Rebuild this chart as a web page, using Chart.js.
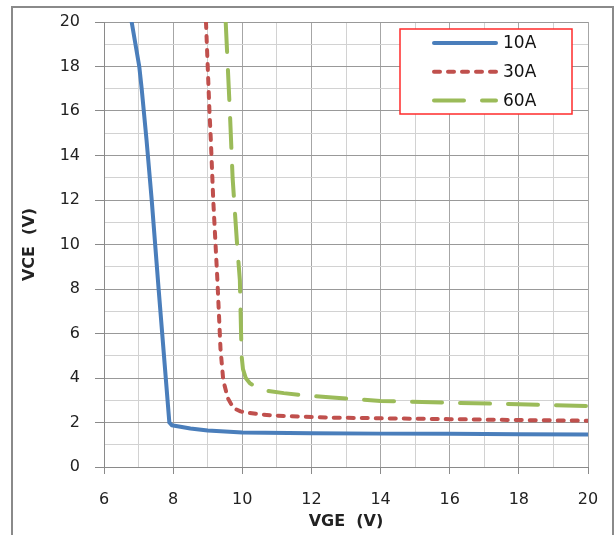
<!DOCTYPE html>
<html>
<head>
<meta charset="utf-8">
<script src="https://cdn.jsdelivr.net/npm/chart.js@4.4.0/dist/chart.umd.min.js"></script>
<style>
html, body { margin: 0; padding: 0; background: #fff; }
#wrap { width: 616px; height: 535px; }
</style>
</head>
<body>
<div id="wrap"><canvas id="vceChart" width="616" height="535"></canvas></div>
<script>
// series (VGE on x, VCE on y)
const vge10 = [6.8, 7.02, 7.09, 7.23, 7.38, 7.58, 7.89, 7.96, 8.5, 9, 10, 12, 14, 16, 18, 20];
const vce10 = [20, 18, 17, 14.7, 12, 8, 2.0, 1.88, 1.73, 1.64, 1.55, 1.52, 1.5, 1.49, 1.47, 1.46];

const vge30 = [8.95, 9.0, 9.05, 9.09, 9.16, 9.28, 9.37, 9.45, 9.58, 9.74, 9.95, 10.13, 10.6, 11.2, 12.6, 14, 16, 18, 20];
const vce30 = [20, 18, 16, 14.7, 12, 8.4, 5.3, 3.9, 3.1, 2.65, 2.5, 2.44, 2.35, 2.29, 2.22, 2.19, 2.15, 2.11, 2.08];

const vge60 = [9.52, 9.58, 9.64, 9.72, 9.85, 9.93, 9.98, 10.02, 10.1, 10.22, 10.45, 10.7, 11.2, 11.7, 12.6, 14, 16, 18, 20];
const vce60 = [20, 18, 16, 13, 10, 8.4, 5.0, 4.4, 4.0, 3.76, 3.55, 3.43, 3.32, 3.23, 3.12, 2.97, 2.89, 2.82, 2.74];

const seriesLabels = ["10A", "30A", "60A"];

const xMin = 6, xMax = 20;
const yMin = 0, yMax = 20;

function pairs(xs, ys) {
    return xs.map((x, i) => ({ x: x, y: ys[i] }));
}

const FONT = "'DejaVu Sans', Verdana, sans-serif";
const isMajor = ctx => ctx.tick && Math.round(ctx.tick.value) % 2 === 0;

// grey frame round the whole picture
const frame = {
    id: "frame",
    beforeDraw(chart) {
        const ctx = chart.ctx;
        ctx.save();
        ctx.fillStyle = "#fff";
        ctx.fillRect(0, 0, chart.width, chart.height);
        ctx.strokeStyle = "#8a8a8a";
        ctx.lineWidth = 2;
        ctx.beginPath();
        ctx.moveTo(12, chart.height + 2);
        ctx.lineTo(12, 7);
        ctx.lineTo(613, 7);
        ctx.lineTo(613, chart.height + 2);
        ctx.stroke();
        ctx.restore();
    }
};

// legend in a red box inside the plot, top right
const boxLegend = {
    id: "boxLegend",
    afterDatasetsDraw(chart) {
        const ctx = chart.ctx;
        const area = chart.chartArea;
        const w = 172, h = 85;
        const left = area.right - 16 - w;
        const top = area.top + 7;
        ctx.save();
        ctx.fillStyle = "#fff";
        ctx.fillRect(left, top, w, h);
        ctx.strokeStyle = "#ff2b2b";
        ctx.lineWidth = 1.5;
        ctx.strokeRect(left, top, w, h);
        ctx.font = "17px " + FONT;
        ctx.textBaseline = "middle";
        chart.data.datasets.forEach((ds, i) => {
            const y = top + 14 + i * 28.7;
            ctx.strokeStyle = ds.borderColor;
            ctx.lineWidth = ds.borderWidth;
            ctx.lineCap = ds.borderCapStyle || "butt";
            ctx.setLineDash(ds.borderDash || []);
            ctx.beginPath();
            ctx.moveTo(left + 34, y);
            ctx.lineTo(left + 96, y);
            ctx.stroke();
            ctx.setLineDash([]);
            ctx.fillStyle = "#111";
            ctx.fillText(ds.label, left + 103, y + 1);
        });
        ctx.restore();
    }
};

new Chart(document.getElementById("vceChart"), {
    type: "scatter",
    data: {
        datasets: [{
            label: seriesLabels[0],
            data: pairs(vge10, vce10),
            showLine: true,
            borderColor: "#4a7ebb",
            borderWidth: 4,
            borderCapStyle: "round",
            borderJoinStyle: "round",
            pointRadius: 0,
            tension: 0
        }, {
            label: seriesLabels[1],
            data: pairs(vge30, vce30),
            showLine: true,
            borderColor: "#c0504d",
            borderWidth: 4,
            borderDash: [6, 8],
            borderCapStyle: "round",
            borderJoinStyle: "round",
            pointRadius: 0,
            tension: 0
        }, {
            label: seriesLabels[2],
            data: pairs(vge60, vce60),
            showLine: true,
            borderColor: "#9bbb59",
            borderWidth: 4,
            borderDash: [30, 18],
            borderCapStyle: "round",
            borderJoinStyle: "round",
            pointRadius: 0,
            tension: 0
        }]
    },
    options: {
        responsive: false,
        animation: false,
        layout: { padding: { left: 0, right: 28, top: 22, bottom: 0 } },
        plugins: {
            legend: { display: false },
            tooltip: { enabled: false }
        },
        scales: {
            x: {
                type: "linear",
                min: xMin,
                max: xMax,
                afterFit(scale) {
                    scale.height = 68;
                    scale.paddingLeft = 0;
                    scale.paddingRight = 0;
                },
                ticks: {
                    stepSize: 1,
                    autoSkip: false,
                    maxRotation: 0,
                    padding: 16,
                    color: "#222",
                    font: { family: FONT, size: 16 },
                    callback: v => (v % 2 === 0 ? v : "")
                },
                grid: {
                    color: ctx => (isMajor(ctx) ? "#a6a6a6" : "#d2d2d2"),
                    tickColor: ctx => (isMajor(ctx) ? "#8a8a8a" : "rgba(0,0,0,0)"),
                    tickLength: 7
                },
                border: { color: "#8a8a8a", width: 1 },
                title: {
                    display: true,
                    text: "VGE  (V)",
                    color: "#222",
                    font: { family: FONT, size: 16, weight: "bold" },
                    padding: { top: 0, bottom: 4 }
                }
            },
            y: {
                type: "linear",
                min: yMin,
                max: yMax,
                afterFit(scale) {
                    scale.width = 104;
                    scale.paddingTop = 0;
                    scale.paddingBottom = 0;
                },
                ticks: {
                    stepSize: 1,
                    autoSkip: false,
                    padding: 15,
                    color: "#222",
                    font: { family: FONT, size: 16 },
                    callback: v => (v % 2 === 0 ? v : "")
                },
                grid: {
                    color: ctx => (isMajor(ctx) ? "#999999" : "#d2d2d2"),
                    tickColor: ctx => (isMajor(ctx) ? "#8a8a8a" : "rgba(0,0,0,0)"),
                    tickLength: 9
                },
                border: { color: "#8a8a8a", width: 1 },
                title: {
                    display: true,
                    text: "VCE  (V)",
                    color: "#222",
                    font: { family: FONT, size: 16, weight: "bold" },
                    padding: { top: 20, bottom: 0 }
                }
            }
        }
    },
    plugins: [frame, boxLegend]
});
</script>
</body>
</html>
